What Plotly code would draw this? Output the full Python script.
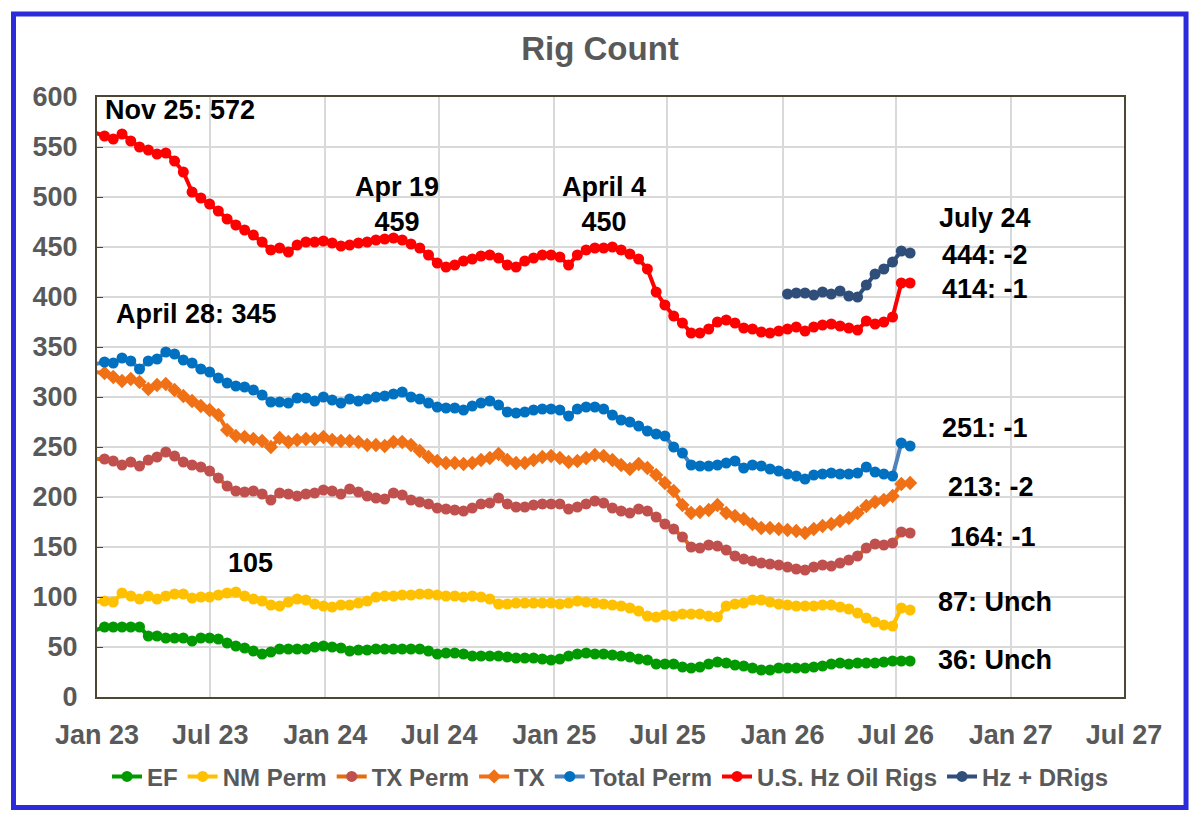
import pandas as pd
import plotly.graph_objects as go

# biweekly report dates, last one July 24 2026
dates = pd.date_range(end="2026-07-24", periods=94, freq="14D")

ef = [67, 70, 70, 70, 70, 70, 61, 61, 59, 59,
      59, 56, 59, 59, 58, 54, 51, 49, 46, 43,
      45, 48, 48, 48, 48, 50, 51, 50, 49, 46,
      47, 47, 48, 48, 48, 48, 48, 48, 46, 43,
      44, 44, 43, 41, 41, 41, 41, 40, 39, 39,
      39, 38, 37, 38, 41, 43, 44, 43, 43, 42,
      41, 40, 38, 37, 33, 33, 33, 30, 29, 30,
      33, 35, 34, 32, 31, 29, 27, 27, 29, 29,
      29, 29, 30, 31, 33, 34, 33, 34, 34, 34,
      35, 36, 36, 36]

nm_perm = [95, 96, 95, 104, 101, 98, 101, 98, 101, 103,
           103, 99, 100, 100, 102, 104, 105, 101, 98, 96,
           92, 91, 95, 98, 97, 93, 91, 90, 92, 92,
           94, 96, 100, 101, 101, 102, 102, 103, 103, 102,
           101, 101, 100, 101, 100, 98, 93, 93, 94, 94,
           94, 94, 94, 93, 94, 96, 95, 94, 93, 92,
           91, 89, 86, 81, 80, 82, 81, 83, 83, 83,
           81, 80, 91, 93, 94, 97, 97, 95, 93, 92,
           91, 91, 91, 92, 92, 90, 88, 84, 79, 75,
           72, 71, 89, 87]

tx_perm = [238, 238, 236, 232, 235, 231, 237, 240, 245, 241,
           235, 232, 230, 226, 219, 211, 206, 205, 206, 203,
           197, 204, 203, 201, 203, 204, 207, 206, 203, 208,
           205, 201, 199, 198, 204, 202, 197, 195, 193, 189,
           188, 187, 186, 189, 193, 194, 199, 193, 190, 190,
           192, 193, 193, 193, 188, 190, 193, 196, 194, 189,
           186, 184, 188, 186, 180, 173, 168, 160, 150, 149,
           152, 151, 147, 141, 138, 136, 134, 133, 132, 130,
           128, 127, 130, 132, 131, 134, 137, 141, 149, 153,
           152, 154, 165, 164]

tx = [325, 324, 320, 316, 318, 315, 308, 312, 313, 307,
      301, 296, 291, 287, 282, 267, 261, 260, 258, 256,
      250, 259, 255, 257, 258, 258, 260, 257, 256, 256,
      255, 252, 252, 251, 255, 255, 252, 246, 240, 236,
      234, 234, 233, 234, 237, 239, 243, 237, 234, 234,
      237, 240, 241, 239, 235, 236, 239, 242, 241, 237,
      232, 228, 233, 229, 222, 214, 206, 192, 184, 185,
      187, 192, 184, 181, 178, 173, 169, 169, 168, 167,
      166, 164, 168, 171, 173, 176, 179, 184, 191, 195,
      197, 201, 213, 214]

total_perm = [333, 335, 334, 339, 336, 328, 336, 338, 345, 343,
              337, 334, 328, 325, 319, 314, 311, 310, 307, 302,
              295, 295, 294, 299, 299, 296, 300, 297, 294, 298,
              296, 298, 300, 301, 303, 305, 300, 298, 294, 290,
              289, 289, 287, 291, 294, 296, 292, 285, 284, 285,
              287, 288, 288, 287, 281, 288, 290, 290, 288, 282,
              277, 275, 271, 266, 263, 261, 250, 244, 232, 231,
              231, 232, 234, 236, 229, 232, 231, 228, 226, 223,
              221, 218, 222, 223, 224, 223, 223, 224, 230, 225,
              223, 221, 254, 251]

us_hz_oil = [564, 561, 558, 563, 556, 550, 547, 543, 544, 536,
             525, 505, 499, 493, 486, 478, 472, 467, 462, 455,
             447, 449, 445, 452, 455, 455, 456, 454, 451, 452,
             454, 455, 457, 458, 459, 457, 453, 449, 442, 434,
             430, 432, 436, 438, 441, 442, 439, 432, 430, 436,
             439, 442, 442, 440, 432, 442, 447, 449, 449, 450,
             447, 443, 438, 428, 405, 392, 381, 374, 364, 364,
             368, 375, 377, 374, 369, 368, 365, 364, 366, 368,
             370, 366, 370, 372, 373, 371, 369, 367, 376, 373,
             375, 380, 414, 414]

# Hz + DRigs only reported from January 2026
hz_d_rigs = [403, 404, 404, 402, 405, 403, 406, 401, 400, 412, 423, 428, 435, 446, 444]
hz_d_dates = dates[-len(hz_d_rigs):]

FONT = "Liberation Sans, Arial, sans-serif"
GREY = "#595959"

series = [
    ("EF", dates, ef, "#009900", "#009900", "circle", 11),
    ("NM Perm", dates, nm_perm, "#FFC000", "#FFC000", "circle", 11),
    ("TX Perm", dates, tx_perm, "#E46C0A", "#C0504D", "circle", 11),
    ("TX", dates, tx, "#F07016", "#F07016", "diamond", 11),
    ("Total Perm", dates, total_perm, "#4F81BD", "#0070C0", "circle", 11),
    ("U.S. Hz Oil Rigs", dates, us_hz_oil, "#FF0000", "#FF0000", "circle", 11),
    ("Hz + DRigs", hz_d_dates, hz_d_rigs, "#2F4E7A", "#2F4E7A", "circle", 11),
]

fig = go.Figure()
for name, xs, ys, lcol, mcol, sym, size in series:
    fig.add_trace(go.Scatter(
        x=xs, y=ys, name=name, mode="lines+markers",
        line=dict(color=lcol, width=4),
        marker=dict(color=mcol, symbol=sym, size=size),
        cliponaxis=False,
    ))

notes = [
    ("2023-01-10", 587, "Nov 25: 572", "left"),
    ("2023-06-09", 383, "April 28: 345", "center"),
    ("2024-04-25", 493, "Apr 19<br>459", "center"),
    ("2025-03-21", 493, "April 4<br>450", "center"),
    ("2023-09-03", 134, "105", "center"),
    ("2026-11-20", 479, "July 24", "center"),
    ("2026-11-20", 442, "444: -2", "center"),
    ("2026-11-20", 408, "414: -1", "center"),
    ("2026-11-20", 269, "251: -1", "center"),
    ("2026-12-01", 210, "213: -2", "center"),
    ("2026-12-03", 160, "164: -1", "center"),
    ("2026-12-06", 95, "87: Unch", "center"),
    ("2026-12-06", 37, "36: Unch", "center"),
]
for nx, ny, txt, anchor in notes:
    fig.add_annotation(x=nx, y=ny, text=txt, showarrow=False, xanchor=anchor,
                       yanchor="middle",
                       font=dict(family=FONT, size=27, color="black", weight="bold"))

# blue frame round the whole chart
fig.add_shape(type="rect", xref="paper", yref="paper",
              x0=-0.0813, x1=1.0604, y0=-0.1842, y1=1.1383,
              line=dict(color="#2B2BDB", width=5))

# the page adds an 8 px body margin, so the figure is 8 px smaller
fig.update_layout(
    width=1194, height=814,
    margin=dict(l=89, r=78, t=89, b=125),
    paper_bgcolor="white", plot_bgcolor="white",
    title=dict(text="Rig Count", x=(600 - 8) / 1194, xref="container", xanchor="center",
               y=1 - 40 / 814, yref="container", yanchor="middle",
               font=dict(family=FONT, size=33, color=GREY, weight="bold")),
    legend=dict(orientation="h", x=0.5, xanchor="center", y=-0.133, yanchor="middle",
                font=dict(family=FONT, size=24, color=GREY, weight="bold"),
                bgcolor="rgba(0,0,0,0)", itemwidth=30),
    showlegend=True,
)

fig.update_xaxes(
    type="date", range=["2023-01-01", "2027-07-01"],
    tick0="2023-01-01", dtick="M6", tickformat="%b %y",
    showgrid=True, gridcolor="#D9D9D9", gridwidth=2,
    showline=True, linecolor="#4D4633", linewidth=2, mirror=True,
    ticks="", ticklabelstandoff=13,
    tickfont=dict(family=FONT, size=27, color=GREY, weight="bold"),
)
fig.update_yaxes(
    range=[0, 600], dtick=50,
    showgrid=True, gridcolor="#D9D9D9", gridwidth=2,
    showline=True, linecolor="#4D4633", linewidth=2, mirror=True,
    ticks="inside", ticklen=6, tickcolor="#4D4633", ticklabelstandoff=12,
    zeroline=False,
    tickfont=dict(family=FONT, size=27, color=GREY, weight="bold"),
)

fig.write_html("out.html")
